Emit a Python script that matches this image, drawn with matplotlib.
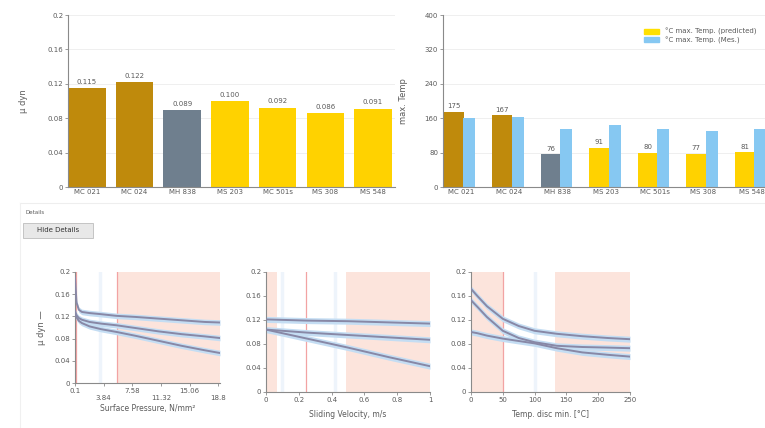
import matplotlib
matplotlib.use("Agg")
import matplotlib.pyplot as plt
from matplotlib.patches import Rectangle
from matplotlib.lines import Line2D

# ---------------- data ----------------
materials = ["MC 021", "MC 024", "MH 838", "MS 203", "MC 501s", "MS 308", "MS 548"]
mu_dyn = [0.115, 0.122, 0.089, 0.100, 0.092, 0.086, 0.091]
mu_labels = ["0.115", "0.122", "0.089", "0.100", "0.092", "0.086", "0.091"]
temp_pred = [175, 167, 76, 91, 80, 77, 81]
temp_meas = [160, 163, 135, 144, 135, 130, 135]
bar_colors = ["#BF8A0C", "#BF8A0C", "#6F7F8E", "#FFD200", "#FFD200", "#FFD200", "#FFD200"]
meas_color = "#86C8F2"

# detail curve 1: surface pressure
p_x = [0.1, 0.3, 0.6, 1.0, 2.0, 3.5, 5.5, 8.0, 11.0, 14.0, 17.0, 19.0]
p_top = [0.19, 0.145, 0.132, 0.128, 0.126, 0.124, 0.121, 0.119, 0.116, 0.113, 0.110, 0.109]
p_mid = [0.13, 0.122, 0.117, 0.114, 0.110, 0.107, 0.104, 0.099, 0.093, 0.088, 0.084, 0.081]
p_bot = [0.125, 0.118, 0.112, 0.108, 0.102, 0.097, 0.092, 0.085, 0.076, 0.067, 0.059, 0.054]
p_ticks = [0.1, 3.84, 7.58, 11.32, 15.06, 18.8]
p_ticklabels = ["0.1", "\n3.84", "7.58", "\n11.32", "15.06", "\n18.8"]

# detail curve 2: sliding velocity
v_x = [0.0, 0.25, 0.5, 0.75, 1.0]
v_top = [0.121, 0.119, 0.118, 0.116, 0.114]
v_mid = [0.104, 0.099, 0.095, 0.091, 0.087]
v_bot = [0.104, 0.089, 0.074, 0.058, 0.043]
v_ticks = [0, 0.2, 0.4, 0.6, 0.8, 1]
v_ticklabels = ["0", "0.2", "0.4", "0.6", "0.8", "1"]

# detail curve 3: temperature
t_x = [0, 10, 25, 50, 75, 100, 135, 175, 215, 250]
t_top = [0.172, 0.160, 0.143, 0.122, 0.110, 0.102, 0.097, 0.093, 0.090, 0.088]
t_mid = [0.153, 0.142, 0.125, 0.102, 0.090, 0.083, 0.077, 0.075, 0.074, 0.073]
t_bot = [0.100, 0.098, 0.094, 0.089, 0.085, 0.081, 0.073, 0.066, 0.062, 0.059]
t_ticks = [0, 50, 100, 150, 200, 250]

mu_ticks = [0, 0.04, 0.08, 0.12, 0.16, 0.2]
mu_ticklabels = ["0", "0.04", "0.08", "0.12", "0.16", "0.2"]
temp_ticks = [0, 80, 160, 240, 320, 400]

# ---------------- style ----------------
W, H = 765, 428
fig = plt.figure(figsize=(W / 100, H / 100), dpi=100)
plt.rcParams["font.family"] = ["DejaVu Sans"]
TXT = "#5a5a5a"
SP = "#8a8a8a"
FS = 5


def rect(l, r, t, b):
    return [l / W, (H - b) / H, (r - l) / W, (b - t) / H]


def style(ax, grid=True):
    for s in ["top", "right"]:
        ax.spines[s].set_visible(False)
    for s in ["left", "bottom"]:
        ax.spines[s].set_color(SP)
        ax.spines[s].set_linewidth(0.8)
    ax.tick_params(colors=SP, labelcolor=TXT, labelsize=FS, length=2, width=0.6, pad=1.5)
    if grid:
        ax.yaxis.grid(True, color="#ececec", linewidth=0.6)
        ax.set_axisbelow(True)


# ---- top left: mu dyn bars ----
ax1 = fig.add_axes(rect(68, 395, 15, 187))
x = list(range(len(materials)))
ax1.bar(x, mu_dyn, width=0.79, color=bar_colors)
for xi, v, lab in zip(x, mu_dyn, mu_labels):
    ax1.text(xi, v + 0.004, lab, ha="center", va="bottom", fontsize=FS, color=TXT)
ax1.set_xlim(-0.395, 6.46)
ax1.set_ylim(0, 0.2)
ax1.set_yticks(mu_ticks)
ax1.set_yticklabels(mu_ticklabels)
ax1.set_xticks(x)
ax1.set_xticklabels(materials)
style(ax1)
ax1.tick_params(axis="x", length=0)
ax1.set_ylabel("μ dyn", fontsize=FS + 1, color=TXT, labelpad=14)

# ---- top right: temperatures ----
ax2 = fig.add_axes(rect(443, 766, 15, 187))
ax2.bar([xi - 0.2 for xi in x], temp_pred, width=0.41, color=bar_colors)
ax2.bar([xi + 0.125 for xi in x], temp_meas, width=0.25, color=meas_color)
for xi, v in zip(x, temp_pred):
    ax2.text(xi - 0.2, v + 6, str(v), ha="center", va="bottom", fontsize=FS, color=TXT)
ax2.set_xlim(-0.42, 6.24)
ax2.set_ylim(0, 400)
ax2.set_yticks(temp_ticks)
ax2.set_xticks([xi - 0.05 for xi in x])
ax2.set_xticklabels(materials)
style(ax2)
ax2.tick_params(axis="x", length=0)
ax2.set_ylabel("max. Temp", fontsize=FS + 1, color=TXT, labelpad=12)
handles = [Rectangle((0, 0), 1, 1, color="#FFE000"), Rectangle((0, 0), 1, 1, color=meas_color)]
ax2.legend(handles, ["°C max. Temp. (predicted)", "°C max. Temp. (Mes.)"], loc="upper right",
           bbox_to_anchor=(0.99, 0.96), frameon=False, fontsize=FS, handlelength=2.2,
           handleheight=0.7, labelspacing=0.15, labelcolor=TXT)

# ---- separator, Details, button ----
fig.add_artist(Line2D([20 / W, 1], [(H - 203) / H] * 2, color="#eeeeee", linewidth=0.8))
fig.add_artist(Line2D([20 / W, 20 / W], [(H - 203) / H, 0], color="#f0f0f0", linewidth=0.8))
fig.text(25 / W, (H - 212) / H, "Details", fontsize=4, color=TXT, va="center")
fig.add_artist(Rectangle((23 / W, (H - 238) / H), 70 / W, 15 / H, facecolor="#e8e8e8",
                         edgecolor="#bdbdbd", linewidth=0.6, transform=fig.transFigure))
fig.text(58 / W, (H - 230.5) / H, "Hide Details", fontsize=FS, color="#333333", ha="center", va="center")

PINK = "#FCE4DC"
RED = "#F2A3A3"
LINE = "#8888A6"
BAND = "#C4DDF3"


def detail(ax, xs, curves, xlim, pinks, redlines, bluelines):
    for a, b in pinks:
        ax.axvspan(a, b, color=PINK, linewidth=0, zorder=0)
    for r in redlines:
        ax.axvline(r, color=RED, linewidth=0.9, zorder=1)
    for bl in bluelines:
        ax.axvline(bl, color="#eef4fb", linewidth=2.5, zorder=0.5)
    for c in curves:
        ax.fill_between(xs, [v - 0.005 for v in c], [v + 0.005 for v in c], color=BAND,
                        linewidth=0, zorder=2)
    for c in curves:
        ax.plot(xs, c, color=LINE, linewidth=1.4, zorder=3)
    ax.set_xlim(*xlim)
    ax.set_ylim(0, 0.2)
    ax.set_yticks(mu_ticks)
    ax.set_yticklabels(mu_ticklabels)
    style(ax, grid=False)


ax3 = fig.add_axes(rect(75, 220, 272, 383))
detail(ax3, p_x, [p_top, p_mid, p_bot], (0.1, 19.0), [(0.1, 0.35), (5.55, 19.0)], [0.2, 5.55], [3.4])
ax3.set_xticks(p_ticks)
ax3.set_xticklabels(p_ticklabels)
ax3.set_xlabel("Surface Pressure, N/mm²", fontsize=FS + 0.5, color=TXT, labelpad=2)
ax3.set_ylabel("μ dyn —", fontsize=FS + 1, color=TXT, labelpad=6)

ax4 = fig.add_axes(rect(266, 430, 272, 392))
detail(ax4, v_x, [v_top, v_mid, v_bot], (0, 1), [(0, 0.065), (0.49, 1)], [0.245], [0.1, 0.42])
ax4.set_xticks(v_ticks)
ax4.set_xticklabels(v_ticklabels)
ax4.set_xlabel("Sliding Velocity, m/s", fontsize=FS + 0.5, color=TXT, labelpad=5)

ax5 = fig.add_axes(rect(471, 630, 272, 392))
detail(ax5, t_x, [t_top, t_mid, t_bot], (0, 250), [(0, 50), (132, 250)], [50], [100])
ax5.set_xticks(t_ticks)
ax5.set_xlabel("Temp. disc min. [°C]", fontsize=FS + 0.5, color=TXT, labelpad=5)

fig.savefig("out.png", dpi=100)
